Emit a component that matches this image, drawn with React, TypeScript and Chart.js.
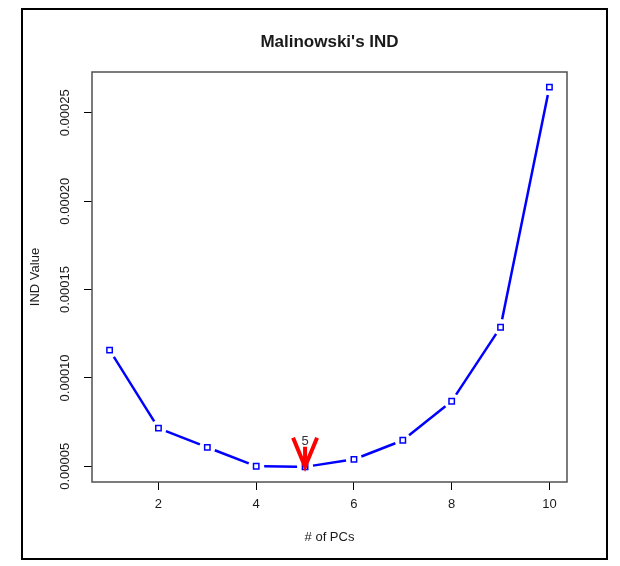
import React, { useEffect, useRef } from 'react';
import { Chart, registerables } from 'chart.js';

Chart.register(...registerables);

// ---- data ----
const pcs = [1, 2, 3, 4, 5, 6, 7, 8, 9, 10];
const indValues = [1.157e-4, 7.16e-5, 6.07e-5, 5.0e-5, 4.97e-5, 5.39e-5, 6.47e-5, 8.68e-5, 1.287e-4, 2.645e-4];
const xTicks = [2, 4, 6, 8, 10];
const yTicks = [0.00005, 0.0001, 0.00015, 0.0002, 0.00025];
const yTickLabels = ['0.00005', '0.00010', '0.00015', '0.00020', '0.00025'];
const minPc = 5;
const minLabel = '5';
const titleText = "Malinowski's IND";
const xTitle = '# of PCs';
const yTitle = 'IND Value';

const FONT = "'Liberation Sans', Arial, Helvetica, sans-serif";
const TEXT = '#1a1a1a';

function rRange(vals: number[]): [number, number] {
  const lo = Math.min(...vals);
  const hi = Math.max(...vals);
  const pad = (hi - lo) * 0.04;
  return [lo - pad, hi + pad];
}

const rPlotPlugin = {
  id: 'rplot',
  beforeDatasetsDraw(chart: any) {
    const ctx = chart.ctx;
    const pts = chart.getDatasetMeta(0).data;
    ctx.save();
    ctx.strokeStyle = '#0000ff';
    ctx.lineWidth = 2.5;
    const gap = 8;
    for (let i = 0; i < pts.length - 1; i++) {
      const a = pts[i];
      const b = pts[i + 1];
      const dx = b.x - a.x;
      const dy = b.y - a.y;
      const d = Math.hypot(dx, dy);
      if (d <= 2 * gap) continue;
      const ux = dx / d;
      const uy = dy / d;
      ctx.beginPath();
      ctx.moveTo(a.x + ux * gap, a.y + uy * gap);
      ctx.lineTo(b.x - ux * gap, b.y - uy * gap);
      ctx.stroke();
    }
    ctx.restore();
  },
  afterDatasetsDraw(chart: any) {
    const ctx = chart.ctx;
    const xs = chart.scales.x;
    const ys = chart.scales.y;
    const ca = chart.chartArea;
    ctx.save();
    // arrow at minimum
    const idx = pcs.indexOf(minPc);
    const px = xs.getPixelForValue(minPc);
    const py = ys.getPixelForValue(indValues[idx]);
    ctx.strokeStyle = '#ff0000';
    ctx.lineWidth = 4;
    ctx.lineCap = 'butt';
    ctx.beginPath();
    ctx.moveTo(px - 12, py - 29);
    ctx.lineTo(px, py);
    ctx.lineTo(px + 12, py - 29);
    ctx.moveTo(px, py - 20);
    ctx.lineTo(px, py);
    ctx.stroke();
    ctx.fillStyle = '#333';
    ctx.font = `13px ${FONT}`;
    ctx.textAlign = 'center';
    ctx.textBaseline = 'middle';
    ctx.fillText(minLabel, px, py - 25);
    // plot box
    ctx.strokeStyle = '#505050';
    ctx.lineWidth = 1.5;
    ctx.strokeRect(ca.left, ca.top, ca.right - ca.left, ca.bottom - ca.top);
    // y tick labels (rotated like R)
    ctx.fillStyle = TEXT;
    ctx.font = `13px ${FONT}`;
    yTicks.forEach((v, i) => {
      const y = ys.getPixelForValue(v);
      ctx.save();
      ctx.translate(65, y);
      ctx.rotate(-Math.PI / 2);
      ctx.textAlign = 'center';
      ctx.textBaseline = 'middle';
      ctx.fillText(yTickLabels[i], 0, 0);
      ctx.restore();
    });
    // title
    ctx.font = `bold 17px ${FONT}`;
    ctx.textAlign = 'center';
    ctx.textBaseline = 'middle';
    ctx.fillStyle = TEXT;
    ctx.fillText(titleText, (ca.left + ca.right) / 2, 42);
    ctx.restore();
  },
  afterDraw(chart: any) {
    const ctx = chart.ctx;
    ctx.save();
    ctx.strokeStyle = '#000';
    ctx.lineWidth = 2;
    ctx.strokeRect(22, 9, 585, 550);
    ctx.restore();
  },
};

export default function App() {
  const ref = useRef<HTMLCanvasElement | null>(null);
  useEffect(() => {
    if (!ref.current) return;
    const [xMin, xMax] = rRange(pcs);
    const [yMin, yMax] = rRange(indValues);
    const chart = new Chart(ref.current, {
      type: 'line',
      data: {
        datasets: [
          {
            data: pcs.map((x, i) => ({ x, y: indValues[i] })),
            showLine: false,
            pointStyle: 'rect',
            pointRadius: 3.8,
            pointBorderWidth: 1.5,
            pointBorderColor: '#0000ff',
            pointBackgroundColor: '#ffffff',
            borderColor: '#0000ff',
          },
        ],
      },
      options: {
        animation: false,
        responsive: false,
        events: [],
        layout: { padding: { left: 0, right: 53, top: 72, bottom: 0 } },
        plugins: { legend: { display: false }, tooltip: { enabled: false }, title: { display: false } },
        scales: {
          x: {
            type: 'linear',
            min: xMin,
            max: xMax,
            afterBuildTicks: (s: any) => {
              s.ticks = xTicks.map((v) => ({ value: v }));
            },
            afterFit: (s: any) => {
              s.height = 84;
            },
            grid: { display: true, drawOnChartArea: false, drawTicks: true, tickLength: 8, color: '#000', lineWidth: 1 },
            border: { display: false },
            ticks: {
              autoSkip: false,
              maxRotation: 0,
              padding: 7,
              color: TEXT,
              font: { size: 13, family: FONT },
            },
            title: {
              display: true,
              text: xTitle,
              color: TEXT,
              font: { size: 13, family: FONT },
              padding: { top: 0, bottom: 21 },
            },
          },
          y: {
            type: 'linear',
            min: yMin,
            max: yMax,
            afterBuildTicks: (s: any) => {
              s.ticks = yTicks.map((v) => ({ value: v }));
            },
            afterFit: (s: any) => {
              s.width = 92;
            },
            grid: { display: true, drawOnChartArea: false, drawTicks: true, tickLength: 8, color: '#000', lineWidth: 1 },
            border: { display: false },
            ticks: { display: false },
            title: {
              display: true,
              text: yTitle,
              color: TEXT,
              font: { size: 13, family: FONT },
              padding: { top: 28, bottom: 0 },
            },
          },
        },
      },
      plugins: [rPlotPlugin],
    } as any);
    return () => chart.destroy();
  }, []);
  return (
    <div style={{ position: 'absolute', left: 0, top: 0, width: 620, height: 566, background: '#fff' }}>
      <canvas ref={ref} width={620} height={566} style={{ width: 620, height: 566, display: 'block' }} />
    </div>
  );
}
